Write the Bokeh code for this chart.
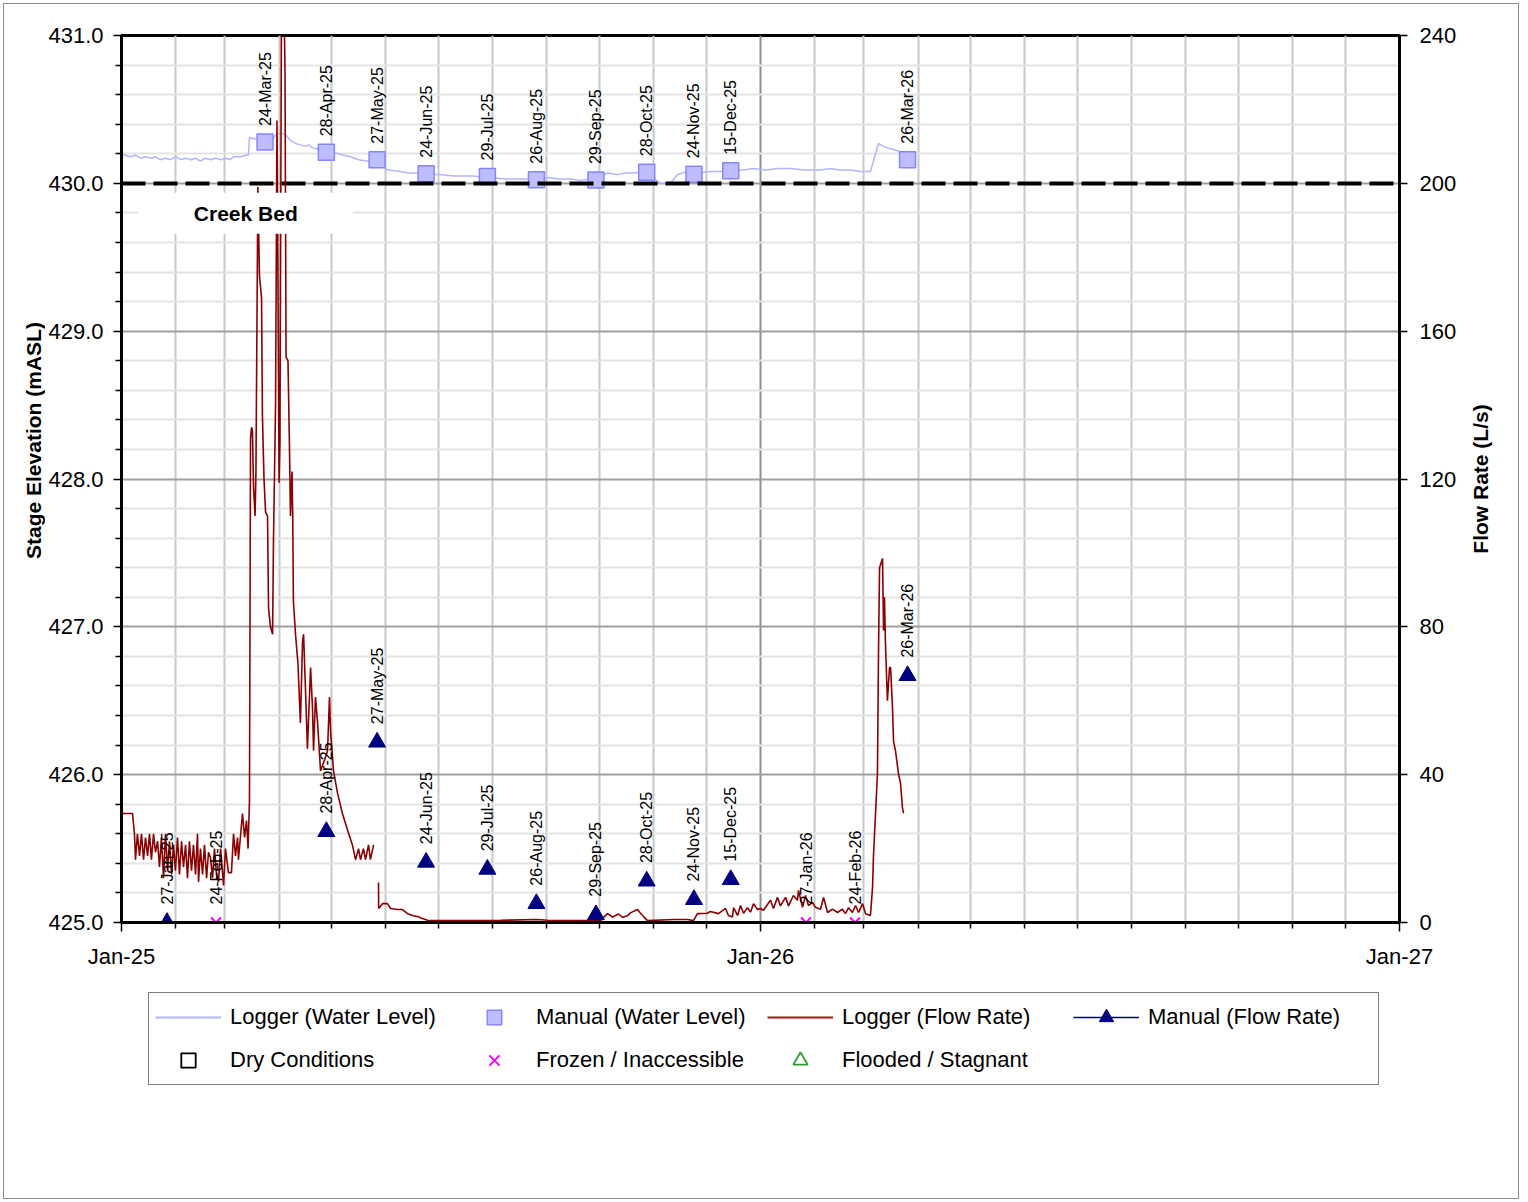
import math
from datetime import datetime
import pandas as pd
from bokeh.plotting import figure
from bokeh.layouts import column, row
from bokeh.models import (Range1d, LinearAxis, FixedTicker, DatetimeTickFormatter,
                          PrintfTickFormatter, ColumnDataSource, Label, Legend, LegendItem)
from bokeh.core.properties import value
from bokeh.embed import file_html
from bokeh.resources import INLINE

FONT = "Liberation Sans"

# ---------------- data ----------------
series_start = "2025-01-01"

# logger water level (days after 1-Jan-2025, mASL)
wl_logger_day = [-5.1, -3.4, -1.7, 2.3, 5.0, 8.0, 11.0, 13.7, 17.0, 19.4, 22.0, 25.1, 28.0, 30.8,
                 34.0, 36.6, 40.0, 42.3, 45.0, 48.0, 51.0, 53.7, 57.0, 59.4, 62.0, 64.0, 68.0, 71.0,
                 72.5, 73.1, 76.0, 78.3, 82.3, 86.3, 88.5, 90.2, 93.7, 96.5, 99.4, 102.2, 105.1,
                 107.0, 109.1, 112.5, 114.0, 116.5, 120.0, 124.0, 127.0, 130.8, 135.4, 141.1, 145.1,
                 149.1, 152.5, 159.4, 164.0, 169.6, 175.0, 181.1, 190.0, 200.5, 210.0, 219.3, 230.8,
                 237.0, 243.3, 250.0, 256.5, 262.0, 267.9, 273.6, 277.6, 283.0, 287.9, 293.0, 298.2,
                 302.2, 307.9, 313.6, 317.6, 323.3, 330.0, 336.0, 342.2, 349.6, 355.0, 361.0, 368.0,
                 375.0, 382.1, 390.0, 399.3, 405.0, 410.0, 416.4, 422.0, 426.1, 427.8, 430.7, 432.4,
                 435.3, 437.5, 440.4, 443.3, 445.0]
wl_logger_val = [430.14, 430.18, 430.20, 430.19, 430.18, 430.19, 430.17, 430.18, 430.17, 430.18,
                 430.16, 430.17, 430.16, 430.18, 430.16, 430.17, 430.16, 430.17, 430.15, 430.17,
                 430.16, 430.17, 430.16, 430.17, 430.16, 430.18, 430.18, 430.19, 430.19, 430.31,
                 430.30, 430.31, 430.30, 430.30, 430.33, 430.34, 430.33, 430.29, 430.27, 430.26,
                 430.25, 430.26, 430.24, 430.23, 430.24, 430.21, 430.21, 430.20, 430.19, 430.18,
                 430.16, 430.15, 430.14, 430.11, 430.09, 430.08, 430.07, 430.07, 430.06, 430.06,
                 430.05, 430.05, 430.04, 430.03, 430.03, 430.02, 430.04, 430.03, 430.03, 430.02,
                 430.03, 430.04, 430.07, 430.06, 430.07, 430.07, 430.08, 430.05, 430.00, 430.00,
                 430.06, 430.08, 430.07, 430.08, 430.08, 430.085, 430.09, 430.10, 430.09, 430.10,
                 430.10, 430.09, 430.09, 430.10, 430.09, 430.09, 430.08, 430.08, 430.08, 430.20,
                 430.27, 430.25, 430.24, 430.23, 430.22, 430.21]

# logger flow rate (days after 1-Jan-2025, L/s)
flow_logger_day = [-5.1, -3.4, -2.3, -1.7, -1.1, -0.6, 0.6, 6.3, 7.4, 8.0, 9.1, 10.3, 11.4, 12.6,
                   13.7, 14.9, 16.0, 17.1, 18.3, 19.4, 20.6, 21.7, 22.8, 24.0, 25.1, 26.3, 27.4,
                   28.6, 29.7, 30.8, 32.0, 33.1, 34.3, 35.4, 36.6, 37.7, 38.8, 40.0, 41.1, 42.3,
                   43.4, 44.0, 45.1, 46.3, 47.4, 48.6, 49.7, 50.8, 52.0, 53.1, 54.3, 55.4, 56.6,
                   58.3, 59.4, 61.1, 62.8, 64.0, 65.1, 66.3, 66.8, 69.1, 70.3, 71.4, 72.3, 73.1,
                   73.7, 74.3, 74.8, 75.4, 76.3, 76.8, 77.9, 78.8, 80.0, 80.5, 81.4, 82.3, 83.4,
                   84.0, 85.1, 86.3, 86.8, 88.0, 88.8, 89.3, 90.0, 90.5, 91.4, 92.5, 93.4, 94.0,
                   95.1, 96.0, 96.5, 97.4, 97.8, 98.2, 99.4, 100.8, 102.2, 103.4, 104.0, 105.1,
                   106.2, 108.0, 109.1, 109.7, 110.8, 112.0, 113.7, 116.0, 117.7, 118.8, 119.4,
                   121.1, 123.4, 126.2, 129.1, 131.9, 133.7, 135.4, 136.5, 138.2, 139.4, 141.1,
                   142.2, 144.0, 145.0, 146.8, 146.9, 149.1, 151.9, 153.7, 157.7, 160.5, 163.4,
                   166.8, 169.1, 171.9, 174.8, 178.2, 199.3, 216.5, 237.6, 243.3, 250.8, 273.6,
                   275.3, 277.6, 280.5, 283.9, 286.2, 289.0, 290.7, 294.7, 296.5, 298.2, 300.5,
                   315.3, 323.3, 326.7, 329.0, 334.7, 336.4, 341.0, 345.0, 346.7, 349.0, 349.6,
                   351.9, 353.6, 355.3, 357.6, 359.3, 361.0, 363.3, 365.0, 366.7, 370.7, 372.4,
                   374.7, 376.4, 379.3, 381.0, 383.8, 386.1, 386.7, 389.0, 390.7, 392.4, 394.7,
                   396.4, 399.3, 401.0, 403.3, 406.1, 409.0, 411.8, 413.5, 415.3, 417.5, 419.3,
                   421.0, 423.3, 425.0, 427.8, 429.0, 429.5, 430.7, 431.8, 432.4, 433.0, 434.7,
                   435.3, 435.8, 436.4, 437.5, 438.7, 439.3, 440.4, 441.0, 442.1, 443.8, 445.0,
                   446.1, 446.7]
flow_logger_val = [11.4, 14.0, 25.0, 34.0, 29.0, 34.0, 29.5, 29.5, 24.0, 17.0, 24.0, 18.0, 24.0, 17.0,
                   23.0, 18.0, 24.0, 17.0, 24.0, 19.0, 22.0, 15.0, 23.0, 12.0, 24.0, 14.0, 22.0,
                   13.0, 21.0, 14.0, 23.0, 13.0, 22.0, 15.0, 21.0, 12.0, 22.0, 14.0, 21.0, 13.0,
                   24.0, 11.0, 20.0, 13.0, 21.0, 12.0, 19.0, 17.6, 12.0, 20.0, 13.0, 11.0, 20.0,
                   10.0, 20.0, 13.5, 13.5, 24.0, 18.0, 23.0, 17.0, 29.5, 23.0, 27.6, 20.0, 33.0,
                   131.0, 134.0, 133.0, 118.0, 110.0, 122.0, 199.0, 175.0, 169.0, 137.0, 120.0, 111.0, 110.0,
                   85.0, 80.0, 78.0, 103.0, 140.0, 217.0, 180.0, 119.0, 130.0, 250.0, 260.0, 230.0, 153.0,
                   152.0, 127.0, 110.0, 122.0, 110.0, 87.0, 78.0, 70.0, 54.0, 76.0, 78.0, 63.0,
                   47.0, 69.0, 58.0, 46.5, 61.0, 54.0, 41.0, 44.0, 46.5, 61.0, 52.0,
                   41.0, 35.0, 29.5, 25.0, 21.0, 17.0, 20.0, 17.0, 20.0, 17.0, 21.0,
                   17.0, 21.0, float("nan"), 10.8, 3.8, 5.1, 5.1, 3.8, 3.5, 3.5, 2.4,
                   1.8, 1.6, 1.1, 0.6, 0.5, 0.5, 0.6, 0.8, 0.6, 0.5, 0.5,
                   1.4, 2.4, 1.5, 2.3, 1.4, 1.8, 2.6, 3.5, 2.5, 1.6, 0.5,
                   0.8, 0.8, 0.5, 2.4, 2.5, 3.0, 2.4, 3.8, 1.9, 1.5, 4.0,
                   1.9, 4.6, 2.5, 4.0, 2.8, 5.1, 3.5, 3.8, 3.3, 6.0, 3.8,
                   6.8, 4.5, 6.8, 4.5, 7.3, 6.0, 8.7, 4.1, 7.3, 4.6, 5.4,
                   4.1, 3.6, 6.8, 2.7, 3.6, 2.7, 3.6, 2.4, 4.0, 2.7, 4.6,
                   2.7, 5.1, 2.4, 1.9, 9.5, 17.6, 29.5, 40.3, 72.8, 96.0, 98.5,
                   79.0, 88.0, 75.0, 60.0, 69.0, 69.0, 58.0, 49.0, 46.5, 40.3, 37.6,
                   31.0, 29.5]

# manual water level measurements (mASL)
wl_manual_dates = ["2025-03-24", "2025-04-28", "2025-05-27", "2025-06-24", "2025-07-29",
                   "2025-08-26", "2025-09-29", "2025-10-28", "2025-11-24", "2025-12-15",
                   "2026-03-26"]
wl_manual_vals = [430.28, 430.21, 430.16, 430.065, 430.047, 430.025, 430.022, 430.075, 430.062,
                  430.085, 430.16]

# manual flow measurements (L/s)
flow_manual_dates = ["2025-01-27", "2025-04-28", "2025-05-27", "2025-06-24", "2025-07-29",
                     "2025-08-26", "2025-09-29", "2025-10-28", "2025-11-24", "2025-12-15",
                     "2026-03-26"]
flow_manual_vals = [0.0, 24.6, 48.8, 16.3, 14.4, 5.1, 2.1, 11.2, 6.2, 11.6, 66.8]

# site visits with frozen / inaccessible conditions
frozen_dates = ["2025-02-24", "2026-01-27", "2026-02-24"]
frozen_vals = [0.0, 0.0, 0.0]

creek_bed_elev = 430.0
creek_bed_text = "Creek Bed"

x_major_dates = ["2025-01-01", "2026-01-01", "2027-01-01"]
left_ticks = [425.0, 426.0, 427.0, 428.0, 429.0, 430.0, 431.0]
right_ticks = [0, 40, 80, 120, 160, 200, 240]
left_title = "Stage Elevation (mASL)"
right_title = "Flow Rate (L/s)"

legend_labels = ["Logger (Water Level)", "Manual (Water Level)", "Logger (Flow Rate)",
                 "Manual (Flow Rate)", "Dry Conditions", "Frozen / Inaccessible",
                 "Flooded / Stagnant"]

# ---------------- styles ----------------
C_WL_LINE = "#b4b4ff"
C_WL_FILL, C_WL_EDGE = "#bdbdff", "#8585ff"
C_FLOW = "#8b0000"
C_MAN_FLOW = "#000080"
C_FROZEN = "#ff00ff"
C_FLOOD = "#2ca02c"
TOP, FRAME_H, BOTTOM = 31, 887, 60
LEFT_STRIP, P_LEFT, P_RIGHT, RIGHT_STRIP = 41, 76, 60, 59

# ---------------- main chart ----------------
base = pd.Timestamp(series_start)
wl_logger_x = base + pd.to_timedelta(wl_logger_day, unit="D")
flow_logger_x = base + pd.to_timedelta(flow_logger_day, unit="D")
wl_man_x = pd.to_datetime(wl_manual_dates)
flow_man_x = pd.to_datetime(flow_manual_dates)
frozen_x = pd.to_datetime(frozen_dates)

p = figure(frame_width=1278, frame_height=FRAME_H, x_axis_type="datetime",
           x_range=Range1d(pd.Timestamp(x_major_dates[0]), pd.Timestamp(x_major_dates[-1])),
           y_range=Range1d(left_ticks[0], left_ticks[-1]),
           output_backend="svg", toolbar_location=None, tools="",
           min_border_left=P_LEFT, min_border_right=P_RIGHT, min_border_top=TOP,
           min_border_bottom=BOTTOM)
p.extra_y_ranges = {"flow": Range1d(right_ticks[0], right_ticks[-1])}
p.background_fill_color = "white"
p.border_fill_color = "white"
p.outline_line_color = "black"
p.outline_line_width = 3

def ms(ts):
    return pd.Timestamp(ts).value / 1e6

month_starts = pd.date_range(x_major_dates[0], x_major_dates[-1], freq="MS")
x_ticker = FixedTicker(ticks=[ms(d) for d in x_major_dates],
                       minor_ticks=[ms(d) for d in month_starts if d.month != 1])
left_minor = [round(left_ticks[0] + 0.2 * i, 1) for i in range(31) if i % 5 != 0]
y_ticker = FixedTicker(ticks=left_ticks, minor_ticks=left_minor)

xa = p.xaxis[0]
xa.ticker = x_ticker
xa.formatter = DatetimeTickFormatter(years="%b-%y", months="%b-%y", days="%b-%y",
                                     hours="%b-%y", minutes="%b-%y", seconds="%b-%y",
                                     milliseconds="%b-%y", microseconds="%b-%y")
ya = p.yaxis[0]
ya.ticker = y_ticker
ya.formatter = PrintfTickFormatter(format="%.1f")

ra = LinearAxis(y_range_name="flow", ticker=FixedTicker(ticks=right_ticks))
p.add_layout(ra, "right")

for ax in (xa, ya, ra):
    ax.axis_line_color = "black"
    ax.axis_line_width = 3
    ax.major_tick_line_color = "black"
    ax.major_tick_line_width = 1.5
    ax.minor_tick_line_color = "black"
    ax.minor_tick_line_width = 1.5
    ax.major_tick_in = 0
    ax.major_tick_out = 8
    ax.minor_tick_in = 0
    ax.minor_tick_out = 6
    ax.major_label_text_font = FONT
    ax.major_label_text_font_size = "22px"
    ax.major_label_text_color = "black"
xa.major_tick_out = 9
xa.major_label_standoff = 12
ya.major_label_standoff = 10
ra.major_label_standoff = 12

p.xgrid.ticker = x_ticker
p.xgrid.grid_line_color = "#8f8f8f"
p.xgrid.grid_line_width = 2
p.xgrid.minor_grid_line_color = "#c8c8c8"
p.xgrid.minor_grid_line_width = 2
p.ygrid.ticker = y_ticker
p.ygrid.grid_line_color = "#a0a0a0"
p.ygrid.grid_line_width = 2
p.ygrid.minor_grid_line_color = "#e4e4e4"
p.ygrid.minor_grid_line_width = 2

p.line(x=wl_logger_x, y=wl_logger_val, line_color=C_WL_LINE, line_width=1.5)
wl_src = ColumnDataSource(dict(x=wl_man_x, y=wl_manual_vals,
                               label=[d.strftime("%d-%b-%y") for d in wl_man_x]))
p.scatter(x="x", y="y", source=wl_src, marker="square", size=16,
          fill_color=C_WL_FILL, line_color=C_WL_EDGE, line_width=1.5)
p.hspan(y=[creek_bed_elev], line_color="black", line_width=4, line_dash="24 8")
p.line(x=flow_logger_x, y=flow_logger_val, y_range_name="flow", line_color=C_FLOW, line_width=1.6)
fl_src = ColumnDataSource(dict(x=flow_man_x, y=flow_manual_vals,
                               label=[d.strftime("%d-%b-%y") for d in flow_man_x]))
p.scatter(x="x", y="y", source=fl_src, y_range_name="flow", marker="triangle",
          size=17, fill_color=C_MAN_FLOW, line_color=C_MAN_FLOW)
fz_src = ColumnDataSource(dict(x=frozen_x, y=frozen_vals,
                               label=[d.strftime("%d-%b-%y") for d in frozen_x]))
p.scatter(x="x", y="y", source=fz_src, y_range_name="flow", marker="x",
          size=14, line_color=C_FROZEN, line_width=2)

txt_kw = dict(angle=math.pi / 2, text_align="left", text_baseline="middle",
              text_font=value(FONT), text_font_size="16px", text_color="black")
p.text(x="x", y="y", text="label", source=wl_src, y_offset=-16, **txt_kw)
p.text(x="x", y="y", text="label", source=fl_src, y_range_name="flow", y_offset=-18, **txt_kw)
p.text(x="x", y="y", text="label", source=fz_src, y_range_name="flow", y_offset=-18, **txt_kw)

p.add_layout(Label(x=datetime(2025, 3, 13), y=creek_bed_elev, y_offset=-30, text=creek_bed_text,
                   text_font=FONT, text_font_style="bold", text_font_size="21px",
                   text_align="center", text_baseline="middle", text_color="black",
                   background_fill_color="white", padding=(55, 9)))

# ---------------- axis-title strips (left / right of the chart) ----------------
def title_strip(width, y_range, y_pos, x_pos, text):
    f = figure(frame_width=width, frame_height=FRAME_H, x_range=Range1d(0, width), y_range=y_range,
               output_backend="svg", toolbar_location=None, tools="",
               x_axis_location=None, y_axis_location=None,
               min_border_left=0, min_border_right=0, min_border_top=TOP, min_border_bottom=BOTTOM)
    f.grid.visible = False
    f.outline_line_color = None
    f.background_fill_color = "white"
    f.border_fill_color = "white"
    f.add_layout(Label(x=x_pos, y=y_pos, text=text, angle=math.pi / 2,
                       text_align="center", text_baseline="middle", text_font=FONT,
                       text_font_style="bold", text_font_size="21px", text_color="black"))
    return f

left_strip = title_strip(LEFT_STRIP, p.y_range, 428.26, 29, left_title)
right_strip = title_strip(RIGHT_STRIP, p.extra_y_ranges["flow"], 120, 21, right_title)

# ---------------- legend panel ----------------
lg = figure(frame_width=1278, frame_height=216, x_range=Range1d(0, 1), y_range=Range1d(0, 1),
            output_backend="svg", toolbar_location=None, tools="",
            x_axis_location=None, y_axis_location=None,
            min_border_left=LEFT_STRIP + P_LEFT, min_border_right=P_RIGHT + RIGHT_STRIP,
            min_border_top=0, min_border_bottom=0)
lg.grid.visible = False
lg.outline_line_color = None
lg.background_fill_color = "white"
lg.border_fill_color = "white"

NA = [float("nan")]
g_wl_line = lg.line(x=NA, y=NA, line_color=C_WL_LINE, line_width=2)
g_wl_sq = lg.scatter(x=NA, y=NA, marker="square", fill_color=C_WL_FILL, line_color=C_WL_EDGE,
                     line_width=1.5)
g_flow = lg.line(x=NA, y=NA, line_color="#a01818", line_width=2)
g_mf_line = lg.line(x=NA, y=NA, line_color=C_MAN_FLOW, line_width=1.5)
g_mf_tri = lg.scatter(x=NA, y=NA, marker="triangle", fill_color=C_MAN_FLOW, line_color=C_MAN_FLOW)
g_dry = lg.scatter(x=NA, y=NA, marker="square", fill_color=None, line_color="black", line_width=1.8)
g_frozen = lg.scatter(x=NA, y=NA, marker="x", line_color=C_FROZEN, line_width=2)
g_flood = lg.scatter(x=NA, y=NA, marker="triangle", fill_color=None, line_color=C_FLOOD,
                     line_width=1.8)

legend = Legend(items=[
    LegendItem(label=legend_labels[0], renderers=[g_wl_line]),
    LegendItem(label=legend_labels[1], renderers=[g_wl_sq]),
    LegendItem(label=legend_labels[2], renderers=[g_flow]),
    LegendItem(label=legend_labels[3], renderers=[g_mf_line, g_mf_tri]),
    LegendItem(label=legend_labels[4], renderers=[g_dry]),
    LegendItem(label=legend_labels[5], renderers=[g_frozen]),
    LegendItem(label=legend_labels[6], renderers=[g_flood]),
], ncols=4, orientation="horizontal", location=(27, 113),
    glyph_width=66, glyph_height=36, label_standoff=9, label_width=224, spacing=7,
    padding=6, margin=0, border_line_color="black", border_line_width=1.5,
    label_text_font=FONT, label_text_font_size="22px", label_text_color="black",
    background_fill_color="white", background_fill_alpha=1.0)
lg.add_layout(legend, "center")

layout = column(row(left_strip, p, right_strip, spacing=0), lg, spacing=0, margin=3,
                styles={"border": "1px solid #8a8a8a"})
open("out.html", "w").write(file_html(layout, INLINE))
